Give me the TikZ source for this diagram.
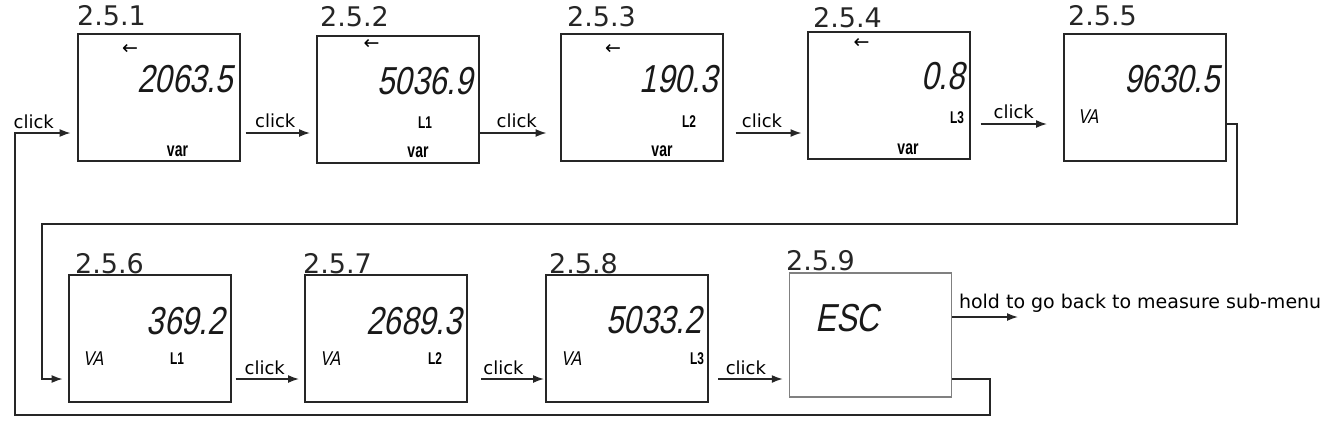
\documentclass[tikz,border=0pt]{standalone}
\usepackage{fontspec}
\setmainfont{DejaVu Sans}
\newfontfamily\lcdfont{Liberation Sans}[FakeStretch=0.8,FakeSlant=0.2]
\newfontfamily\narrowfont{Liberation Sans}[FakeStretch=0.7]
\usepackage{tikz}
\usetikzlibrary{arrows.meta}
\usetikzlibrary{positioning}

\tikzset{
	lcd/.style={draw=black!85, line width=2pt, minimum width=162pt, minimum height=127pt, inner sep=0pt},
	menu/.style={anchor=base west, inner sep=0pt, text=black!85, font=\fontsize{27}{27}\selectfont},
	digits/.style={anchor=east, inner sep=0pt, text=black!90, font=\lcdfont\fontsize{39}{39}\selectfont},
	power/.style={anchor=west, inner sep=0pt, font=\lcdfont\fontsize{20}{20}\selectfont},
	phase/.style={anchor=west, inner sep=0pt, font=\narrowfont\bfseries\fontsize{17}{17}\selectfont},
	unit/.style={inner sep=0pt, font=\narrowfont\bfseries\fontsize{20}{20}\selectfont},
	sign/.style={inner sep=0pt, font=\fontsize{19}{19}\selectfont},
	flow/.style={-{Latex[length=11pt,width=8pt]}, line width=1.5pt, draw=black!85},
	clk/.style={midway, above=4pt, xshift=-3pt, inner sep=0pt, font=\fontsize{18}{18}\selectfont}
}

\begin{document}
\begin{tikzpicture}[x=1pt, y=-1pt]
	\useasboundingbox (0,0) rectangle (1334,429);
	\node[lcd] (Gesamt) at (158.5, 97.5) {};
	\node[lcd] (PhaseA) at (398, 99.5) {};
	\node[lcd] (PhaseB) at (641.5, 97.5) {};
	\node[lcd] (PhaseC) at (888.5, 95.5) {};
	\node[lcd] (Schein) at (1145, 97) {};
	\node[lcd] (ScheinA) at (149.5, 338.5) {};
	\node[lcd] (ScheinB) at (386, 338.5) {};
	\node[lcd] (ScheinC) at (627, 338.5) {};
	\node[lcd, draw=black!50, line width=1.5pt, minimum height=124pt] (Esc) at (870.5, 335) {};
	\node[menu] (tag1) at (77, 25) {2.5.1};
	\node[menu] (tag2) at (320, 26) {2.5.2};
	\node[menu] (tag3) at (567, 26) {2.5.3};
	\node[menu] (tag4) at (813, 27) {2.5.4};
	\node[menu] (tag5) at (1068, 25) {2.5.5};
	\node[menu] (tag6) at (75, 273) {2.5.6};
	\node[menu] (tag7) at (303, 273) {2.5.7};
	\node[menu] (tag8) at (549, 273) {2.5.8};
	\node[menu] (tag9) at (786, 270) {2.5.9};
	\node[sign] (dir1) at (130, 49) {←};
	\node[sign] (dir2) at (371.5, 44) {←};
	\node[sign] (dir3) at (613, 49) {←};
	\node[sign] (dir4) at (861.5, 43) {←};
	\node[digits] (val1) at (233, 79) {2063.5};
	\node[digits] (val2) at (473, 81.5) {5036.9};
	\node[digits] (val3) at (718, 79.5) {190.3};
	\node[digits] (val4) at (965, 76.5) {0.8};
	\node[digits] (val5) at (1220, 79) {9630.5};
	\node[digits] (val6) at (225, 321) {369.2};
	\node[digits] (val7) at (462, 321) {2689.3};
	\node[digits] (val8) at (702, 320) {5033.2};
	\node[digits, anchor=west] (esc) at (815, 318.5) {ESC};
	\node[unit] (var1) at (177.5, 151) {var};
	\node[unit] (var2) at (418, 152.5) {var};
	\node[unit] (var3) at (662, 151) {var};
	\node[unit] (var4) at (908, 149) {var};
	\node[power] (va5) at (1078, 116.5) {VA};
	\node[power] (va6) at (83, 358.5) {VA};
	\node[power] (va7) at (320, 358.5) {VA};
	\node[power] (va8) at (561, 358.5) {VA};
	\node[phase] (L1a) at (418, 123) {L1};
	\node[phase] (L2a) at (682, 122) {L2};
	\node[phase] (L3a) at (950, 118) {L3};
	\node[phase] (L1b) at (170, 358.5) {L1};
	\node[phase] (L2b) at (428, 358.5) {L2};
	\node[phase] (L3b) at (690, 358.5) {L3};
	\coordinate (row0) at (0, 124);
	\coordinate (row1) at (0, 133);
	\coordinate (row2) at (0, 379);
	\coordinate (upTurn) at (1237, 224);
	\coordinate (upDown) at (42, 379);
	\coordinate (lowTurn) at (990, 415);
	\coordinate (lowUp) at (15, 133);
	\coordinate (held) at (1018, 317);
	\draw[flow, shorten <=5pt, shorten >=6pt] (Gesamt.east |- row1) -> node[clk]{click} (PhaseA.west |- row1);
	\draw[flow, shorten >=13pt] (PhaseA.east |- row1) -> node[clk]{click} (PhaseB.west |- row1);
	\draw[flow, shorten <=12pt, shorten >=5pt] (PhaseB.east |- row1) -> node[clk]{click} (PhaseC.west |- row1);
	\draw[flow, shorten <=10pt, shorten >=16pt] (PhaseC.east |- row0) -> node[clk]{click} (Schein.west |- row0);
	\draw[flow, line width=1.2pt, shorten >=5pt] (Schein.east |- row0) -| (upTurn) -| (upDown) -> (ScheinA.west |- row2);
	\draw[flow, shorten <=4pt, shorten >=5pt] (ScheinA.east |- row2) -> node[clk]{click} (ScheinB.west |- row2);
	\draw[flow, shorten <=13pt, shorten >=1pt] (ScheinB.east |- row2) -> node[clk]{click} (ScheinC.west |- row2);
	\draw[flow, shorten <=9pt, shorten >=6pt] (ScheinC.east |- row2) -> node[clk]{click} (Esc.west |- row2);
	\draw[flow] (Esc.east |- held) -> node[pos=0, anchor=base west, xshift=6pt, yshift=9pt, inner sep=0pt, font=\fontsize{19}{19}\selectfont]{hold to go back to measure sub-menu} (held);
	\draw[flow, line width=1.2pt, shorten >=6pt] (Esc.east |- row2) -| (lowTurn) -| (lowUp) -> node[clk, xshift=-9pt]{click} (Gesamt.west |- row1);
\end{tikzpicture}
\end{document}
